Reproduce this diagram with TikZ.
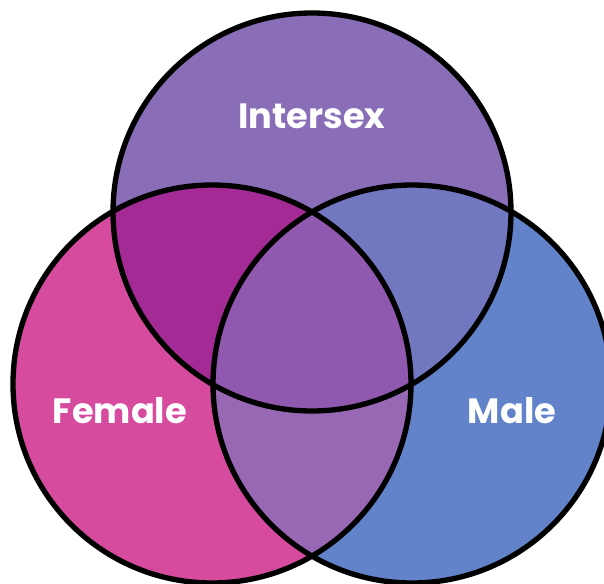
\documentclass[tikz,border=0pt]{standalone}
\usepackage{fontspec}
\setsansfont{Poppins}
\usepackage{tikz}
\usetikzlibrary{positioning,calc}

\definecolor{intercol}{HTML}{8A6DB7}
\definecolor{femcol}{HTML}{D74B9E}
\definecolor{malecol}{HTML}{6283C9}
\definecolor{ifcol}{HTML}{A42B96}
\definecolor{imcol}{HTML}{7178C0}
\definecolor{fmcol}{HTML}{9868B5}
\definecolor{allcol}{HTML}{9058AE}

\tikzset{lbl/.style={text=white,font=\sffamily\bfseries\fontsize{25}{29}\selectfont}}

\begin{document}
\begin{tikzpicture}[x=0.025cm,y=-0.025cm]
      \useasboundingbox (0,0) rectangle (604,584);
      \clip (0,0) rectangle (604,584);
      \coordinate (I) at (312,212); \coordinate (F) at (212,384); \coordinate (M) at (412,384);
      \fill[intercol] (I) circle (199);
      \fill[femcol] (F) circle (199);
      \fill[malecol] (M) circle (199);
      \begin{scope} \clip (I) circle (199); \fill[ifcol] (F) circle (199); \fill[imcol] (M) circle (199); \end{scope}
      \begin{scope} \clip (F) circle (199); \fill[fmcol] (M) circle (199);
        \clip (M) circle (199); \fill[allcol] (I) circle (199); \end{scope}
      \draw[line width=3.8pt] (I) circle (199) (F) circle (199) (M) circle (199);
      \node[lbl] (inter) at (312,116) {Intersex};
      \node[lbl] (fem) at (120,411) {Female};
      \node[lbl] (male) at (512,411) {Male};
    \end{tikzpicture}
\end{document}
